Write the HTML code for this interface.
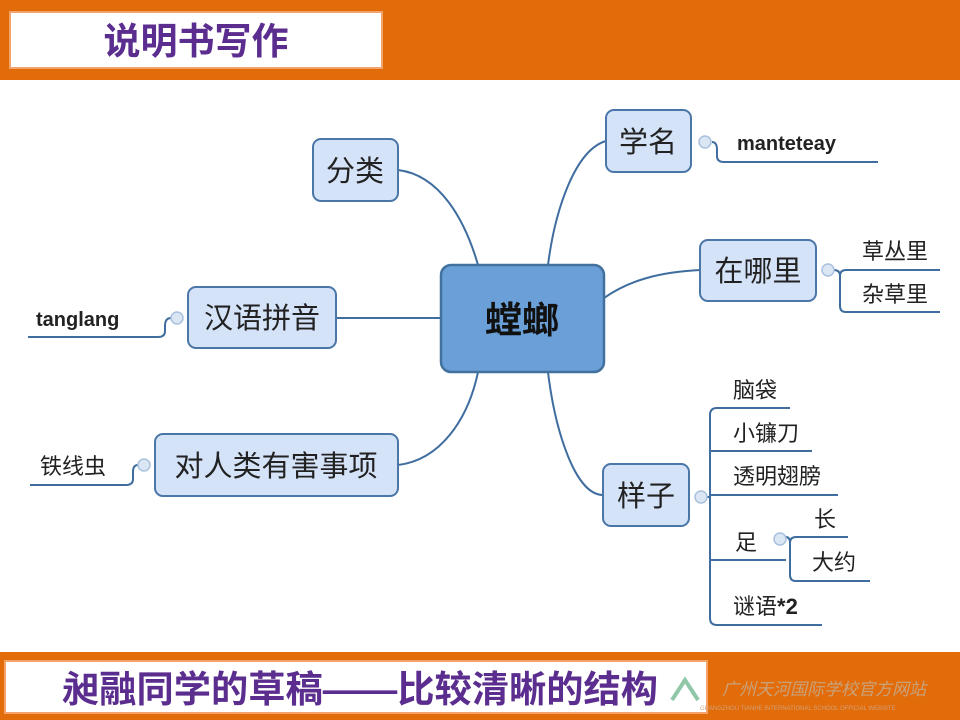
<!DOCTYPE html>
<html><head><meta charset="utf-8"><style>
html,body{margin:0;padding:0;background:#fff}
svg{display:block}
text{font-family:"Liberation Sans","Noto Sans CJK SC",sans-serif;fill:#222}
.n{fill:#d5e3f8;stroke:#4a76a8;stroke-width:2}
.l{fill:none;stroke:#3f6d9f;stroke-width:2}
.c{fill:#dbe6f4;stroke:#a9c1de;stroke-width:1.5}
.t{font-size:29px}
.s{font-size:22px}
.b{font-size:20px;font-weight:bold}
</style></head><body>
<svg width="960" height="720" viewBox="0 0 960 720">
<rect x="0" y="0" width="960" height="80" fill="#e36c0a"/>
<rect x="10" y="12" width="372" height="56" fill="#fff" stroke="#f4a36a" stroke-width="2"/>
<text x="196" y="54" text-anchor="middle" style="font-size:37px;font-weight:bold;fill:#5b2d8e">说明书写作</text>
<rect x="0" y="652" width="960" height="68" fill="#e36c0a"/>
<rect x="5" y="661" width="702" height="52" fill="#fff" stroke="#f4a36a" stroke-width="2"/>
<text x="360" y="702" text-anchor="middle" style="font-size:37px;font-weight:bold;fill:#5b2d8e" textLength="596" lengthAdjust="spacingAndGlyphs">昶融同学的草稿——比较清晰的结构</text>
<path d="M672 700 L685 680 L698 700" fill="none" stroke="#8fc7a8" stroke-width="4"/>
<text x="722" y="695" style="font-size:17px;fill:#c9a27a;font-style:italic">广州天河国际学校官方网站</text>
<text x="700" y="710" style="font-size:6px;fill:#d0a07a">GUANGZHOU TIANHE INTERNATIONAL SCHOOL OFFICIAL WEBSITE</text>

<path class="l" d="M398 170 C440 175 465 220 478 265"/>
<path class="l" d="M606 141 C575 150 555 210 548 265"/>
<path class="l" d="M604 298 C630 280 660 272 700 270"/>
<path class="l" d="M336 318 L441 318"/>
<path class="l" d="M398 465 C440 460 468 420 478 372"/>
<path class="l" d="M548 372 C555 430 575 495 603 495"/>

<path class="l" d="M712 142 Q717 142 717 150 L717 156 Q717 162 724 162 L878 162"/>
<path class="l" d="M834 270 Q840 270 840 276 L840 306 Q840 312 846 312 L940 312 M840 276 Q840 270 846 270 L940 270"/>
<path class="l" d="M171 318 Q165 318 165 326 L165 331 Q165 337 158 337 L28 337"/>
<path class="l" d="M138 465 Q133 465 133 472 L133 479 Q133 485 126 485 L30 485"/>
<path class="l" d="M707 497 L710 497 M710 415 Q710 408 717 408 L790 408 M710 415 L710 618 Q710 625 717 625 L822 625 M710 451 L812 451 M710 495 L838 495 M710 560 L786 560"/>
<path class="l" d="M786 537 Q790 537 790 543 L790 575 Q790 581 796 581 L870 581 M790 543 Q790 537 796 537 L848 537"/>

<circle class="c" cx="705" cy="142" r="6"/>
<circle class="c" cx="828" cy="270" r="6"/>
<circle class="c" cx="177" cy="318" r="6"/>
<circle class="c" cx="144" cy="465" r="6"/>
<circle class="c" cx="701" cy="497" r="6"/>
<circle class="c" cx="780" cy="539" r="6"/>

<rect x="441" y="265" width="163" height="107" rx="10" fill="#6a9fd8" stroke="#41719c" stroke-width="2.5"/>
<text x="522" y="333" text-anchor="middle" style="font-size:37px;font-weight:bold;fill:#111">螳螂</text>
<rect class="n" x="313" y="139" width="85" height="62" rx="8"/><text class="t" x="355" y="181" text-anchor="middle">分类</text>
<rect class="n" x="606" y="110" width="85" height="62" rx="8"/><text class="t" x="648" y="152" text-anchor="middle">学名</text>
<rect class="n" x="700" y="240" width="116" height="61" rx="8"/><text class="t" x="758" y="281" text-anchor="middle">在哪里</text>
<rect class="n" x="188" y="287" width="148" height="61" rx="8"/><text class="t" x="262" y="328" text-anchor="middle">汉语拼音</text>
<rect class="n" x="155" y="434" width="243" height="62" rx="8"/><text class="t" x="276" y="476" text-anchor="middle">对人类有害事项</text>
<rect class="n" x="603" y="464" width="86" height="62" rx="8"/><text class="t" x="646" y="506" text-anchor="middle">样子</text>

<text class="b" x="737" y="150">manteteay</text>
<text class="s" x="862" y="259">草丛里</text>
<text class="s" x="862" y="302">杂草里</text>
<text class="b" x="36" y="326">tanglang</text>
<text class="s" x="40" y="474">铁线虫</text>
<text class="s" x="733" y="398">脑袋</text>
<text class="s" x="733" y="441">小镰刀</text>
<text class="s" x="733" y="484">透明翅膀</text>
<text class="s" x="735" y="550">足</text>
<text class="s" x="814" y="527">长</text>
<text class="s" x="812" y="570">大约</text>
<text class="s" x="733" y="614">谜语<tspan font-weight="bold">*2</tspan></text>
</svg>
</body></html>
